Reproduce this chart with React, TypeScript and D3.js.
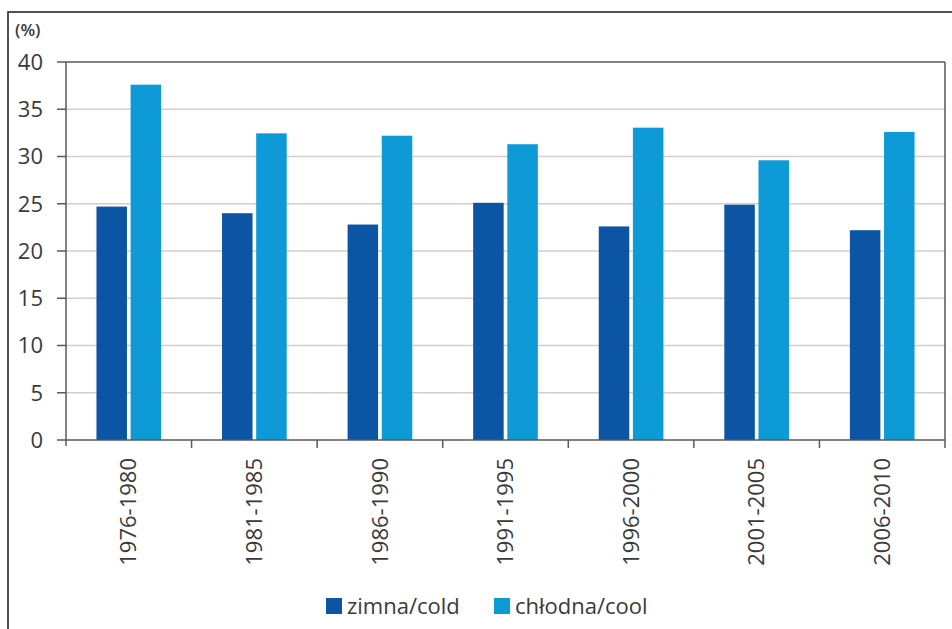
import React from "react";
import * as d3 from "d3";

const categories = ["1976-1980", "1981-1985", "1986-1990", "1991-1995", "1996-2000", "2001-2005", "2006-2010"];
const cold = [24.7, 24.0, 22.8, 25.1, 22.6, 24.9, 22.2];
const cool = [37.6, 32.45, 32.2, 31.3, 33.05, 29.6, 32.6];
const yTicks = [0, 5, 10, 15, 20, 25, 30, 35, 40];
const seriesNames = ["zimna/cold", "chłodna/cool"];
const colors = ["#0c55a5", "#0e9ad7"];

const W = 952, H = 629;
const left = 66, right = 945, top = 62, bottom = 440;
const font = "'Open Sans', 'DejaVu Sans', sans-serif";
const textColor = "#3a3a3a";

export default function App() {
  const x = d3.scaleBand<string>().domain(categories).range([left, right]);
  const y = d3.scaleLinear().domain([0, 40]).range([bottom, top]);
  const bw = x.bandwidth();
  const barW = bw * 0.23;
  const gap = bw * 0.055;
  const inner = d3.scaleBand<number>().domain([0, 1]).range([0, 2 * barW + gap]).paddingInner(gap / (barW + gap / 2) / 2);
  const groupOffset = (bw - (2 * barW + gap)) / 2;
  const series = [cold, cool];

  return (
    <svg width={W} height={H} style={{ position: "absolute", left: 0, top: 0, background: "#fff" }}>
      <rect x={8} y={12} width={W + 10} height={H + 10} fill="#fff" stroke="#1a1a1a" strokeWidth={1.5} />
      {yTicks.map((t) => (
        <g key={t}>
          {t > 0 && t < 40 && (
            <line x1={left} x2={right} y1={y(t)} y2={y(t)} stroke="#d6cdc8" strokeWidth={1.6} />
          )}
          <line x1={left - 9} x2={left} y1={y(t)} y2={y(t)} stroke="#595959" strokeWidth={1.5} />
          <text x={43} y={y(t)} dy="0.36em" textAnchor="end" fontFamily={font} fontSize={22} fill={textColor}>
            {t}
          </text>
        </g>
      ))}
      <line x1={left} x2={right} y1={top} y2={top} stroke="#595959" strokeWidth={1.5} />
      <line x1={right} x2={right} y1={top} y2={bottom} stroke="#595959" strokeWidth={1.5} />
      {series.map((vals, si) =>
        categories.map((c, i) => (
          <rect
            key={si + "-" + c}
            x={(x(c) as number) + groupOffset + (inner(si) as number)}
            y={y(vals[i])}
            width={inner.bandwidth()}
            height={y(0) - y(vals[i])}
            fill={colors[si]}
          />
        ))
      )}
      <line x1={left} x2={left} y1={top} y2={bottom + 6} stroke="#595959" strokeWidth={1.5} />
      <line x1={left} x2={right} y1={bottom} y2={bottom} stroke="#595959" strokeWidth={1.5} />
      {categories.map((c) => (
        <line key={"t" + c} x1={(x(c) as number) + bw} x2={(x(c) as number) + bw} y1={bottom} y2={bottom + 8} stroke="#595959" strokeWidth={1.5} />
      ))}
      {categories.map((c) => {
        const cx = (x(c) as number) + bw / 2;
        return (
          <text
            key={"l" + c}
            transform={`translate(${cx},${bottom + 18}) rotate(-90)`}
            textAnchor="end"
            dy="0.35em"
            fontFamily={font}
            fontSize={22}
            fill={textColor}
          >
            {c}
          </text>
        );
      })}
      <text x={15} y={36} fontFamily={font} fontSize={17} fontWeight={600} fill={textColor}>(%)</text>
      {seriesNames.map((n, i) => {
        const lx = [326, 494][i];
        return (
          <g key={n}>
            <rect x={lx} y={598} width={16} height={16} fill={colors[i]} />
            <text x={lx + 21} y={606} dy="0.36em" fontFamily={font} fontSize={22} fill={textColor}>
              {n}
            </text>
          </g>
        );
      })}
    </svg>
  );
}
